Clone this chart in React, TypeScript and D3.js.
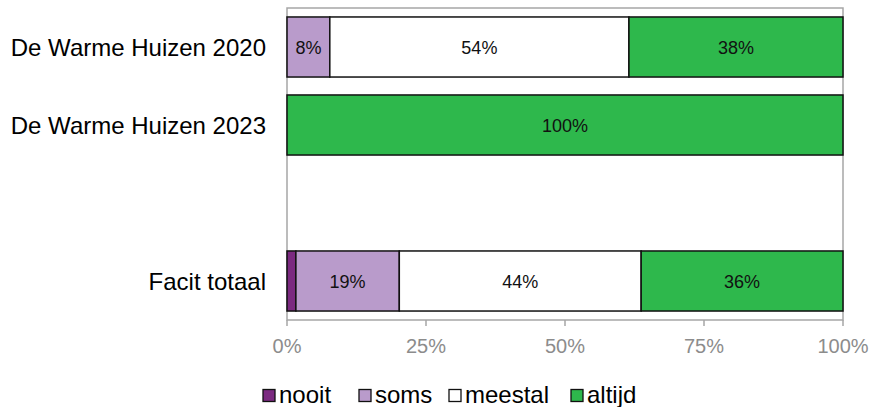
import React from "react";
import * as d3 from "d3";

const categories = ["De Warme Huizen 2020", "De Warme Huizen 2023", "", "Facit totaal"];
const seriesNames = ["nooit", "soms", "meestal", "altijd"];
const nooit = [0, 0, null, 1.6];
const soms = [7.7, 0, null, 18.6];
const meestal = [53.8, 0, null, 43.5];
const altijd = [38.5, 100, null, 36.3];
const labels = [
  ["", "8%", "54%", "38%"],
  ["", "", "", "100%"],
  ["", "", "", ""],
  ["", "19%", "44%", "36%"],
];
const colors = ["#7B2A80", "#B99BCB", "#FFFFFF", "#2EB84C"];
const ticks = [0, 25, 50, 75, 100];

export default function App() {
  const W = 871, H = 407;
  const left = 287, right = 843, top = 8, bottom = 320;
  const x = d3.scaleLinear().domain([0, 100]).range([left, right]);
  const y = d3.scaleBand<string>().domain(categories.map((c, i) => String(i))).range([top, bottom]).paddingInner(0.23).paddingOuter(0.115);
  const series = [nooit, soms, meestal, altijd];
  const font = "Arial, 'Liberation Sans', sans-serif";
  const legendX = [263, 359, 449, 571];
  return (
    <svg width={W} height={H} style={{ position: "absolute", left: 0, top: 0 }} fontFamily={font}>
      <rect x={left} y={top} width={right - left} height={bottom - top} fill="none" stroke="#A6A6A6" strokeWidth={1.5} />
      {ticks.map((t) => (
        <g key={t}>
          <line x1={x(t)} x2={x(t)} y1={bottom} y2={bottom + 6} stroke="#A6A6A6" strokeWidth={1.5} />
          <text x={x(t)} y={bottom + 33} textAnchor="middle" fontSize={20} fill="#8C8C8C">{t}%</text>
        </g>
      ))}
      {categories.map((c, i) => {
        const yy = y(String(i))!;
        const bh = y.bandwidth();
        let acc = 0;
        return (
          <g key={i}>
            <text x={266} y={yy + bh / 2 + 8.5} textAnchor="end" fontSize={24} fill="#000">{c}</text>
            {series.map((s, k) => {
              const v = s[i];
              if (v == null || v === 0) return null;
              const x0 = x(acc);
              acc += v;
              const x1 = x(acc);
              return (
                <g key={k}>
                  <rect x={x0} y={yy} width={x1 - x0} height={bh} fill={colors[k]} stroke="#111" strokeWidth={1.5} />
                  {labels[i][k] && (
                    <text x={(x0 + x1) / 2} y={yy + bh / 2 + 6.5} textAnchor="middle" fontSize={18} fill="#111">{labels[i][k]}</text>
                  )}
                </g>
              );
            })}
          </g>
        );
      })}
      {seriesNames.map((n, k) => (
        <g key={n}>
          <rect x={legendX[k]} y={389.5} width={12} height={12} fill={colors[k]} stroke="#111" strokeWidth={1.3} />
          <text x={legendX[k] + 16} y={402.5} fontSize={24} fill="#000">{n}</text>
        </g>
      ))}
    </svg>
  );
}
